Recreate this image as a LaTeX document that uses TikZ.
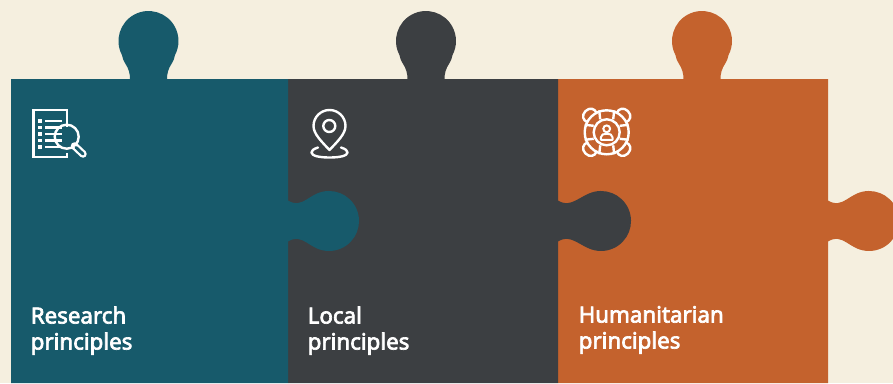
\documentclass[tikz,border=0pt]{standalone}
\usepackage{fontspec}
\setmainfont{Noto Sans}[FakeBold=3]
\definecolor{bgc}{HTML}{F5EFDF}
\definecolor{teal}{HTML}{175A6B}
\definecolor{darkc}{HTML}{3C3F42}
\definecolor{orangec}{HTML}{C4622D}
% #1 left x, #2 right x, #3 top-tab centre x, #4 right-tab circle centre x
\newcommand{\piecepath}[4]{
  (#1,383) -- (#1,79) -- ({#3-18.5},79)
  .. controls ({#3-18.5},74) and ({#3-19.5},69) .. ({#3-23.5},63)
  .. controls ({#3-25},60.5) and ({#3-26},58.5) .. ({#3-26.5},55.1)
  arc[start angle=208,end angle=-28,x radius=30,y radius=-30]
  .. controls ({#3+26},58.5) and ({#3+25},60.5) .. ({#3+23.5},63)
  .. controls ({#3+19.5},69) and ({#3+18.5},74) .. ({#3+18.5},79)
  -- (#2,79) -- (#2,200.5)
  .. controls ({#2+3},202.5) and ({#2+7},203.5) .. ({#2+10},203)
  .. controls ({#2+16},202.5) and ({#4-19},196.5) .. ({#4-12},193.5)
  arc[start angle=113.6,end angle=-113.6,x radius=30,y radius=-30]
  .. controls ({#4-19},245.5) and ({#2+16},239.5) .. ({#2+10},239)
  .. controls ({#2+7},238.5) and ({#2+3},239.5) .. (#2,241.5)
  -- (#2,383) -- cycle}
\tikzset{
  label text/.style={text=white,font=\fontsize{22.3pt}{26pt}\selectfont,align=left,anchor=base west,inner sep=0pt},
  iconline/.style={draw=white,line width=2.4pt,line cap=round,line join=round},
  iconbar/.style={draw=white,line width=2.6pt,line cap=butt},
}
\begin{document}
\begin{tikzpicture}[x=1pt,y=-1pt,line width=0.5pt]
\useasboundingbox (0,0) rectangle (893,383);
\clip (0,0) rectangle (893,383);
\fill[bgc] (0,0) rectangle (893,383);
\fill[orangec] \piecepath{558}{828}{702}{869};
\fill[darkc] \piecepath{288}{558}{426}{601};
\fill[teal] \piecepath{11}{288}{148.5}{329};
% research icon
\draw[iconline,line cap=butt,line join=miter] (33.5,110) rectangle (67,157);
\foreach \y in {121,127.5,134,140.5,147}{
  \fill[white] (38,{\y-1.8}) rectangle (42,{\y+1.8});
}
\draw[iconbar] (45,121) -- (62,121);
\foreach \y in {127.5,134,140.5,147}{ \draw[iconbar] (45,\y) -- (62,\y); }
\fill[teal] (64,127) rectangle (68.2,153);
\draw[white,line width=2.4pt] (66.7,136.7) circle[radius=12];
\draw[white,line width=7.5pt,line cap=round] (74.5,146) -- (83,154);
\draw[teal,line width=3pt,line cap=round] (76,147.4) -- (83,154);
% pin icon
\draw[iconline] (329.5,150) .. controls (322,142) and (313.5,134) .. (313.5,126)
  arc[start angle=180,end angle=0,x radius=16,y radius=-16]
  .. controls (345.5,134) and (337,142) .. (329.5,150) -- cycle;
\draw[white,line width=2.4pt] (329.3,126) circle[radius=6];
\draw[iconline] (318,147.5) .. controls (313,149) and (311.5,151) .. (311.5,152.5)
  .. controls (311.5,156) and (320,157.5) .. (329.5,157.5)
  .. controls (339,157.5) and (347.5,156) .. (347.5,152.5)
  .. controls (347.5,151) and (346,149) .. (341,147.5);
% lifebuoy icon
\begin{scope}[shift={(606.7,132.3)}]
  \foreach \a in {45,135,225,315}{
    \begin{scope}[rotate=\a]
      \draw[iconline] (21,-6.5) .. controls (25,-8.5) and (30,-6) .. (30,0)
        .. controls (30,6) and (25,8.5) .. (21,6.5);
    \end{scope}
  }
  \draw[white,line width=2.4pt] (0,0) circle[radius=22];
  \draw[white,line width=2.4pt] (0,0) circle[radius=13];
  \foreach \a in {0,90,180,270}{
    \begin{scope}[rotate=\a]
      \draw[white,line width=2.4pt] (13,-6.5) -- (22,-7.5);
      \draw[white,line width=2.4pt] (13,6.5) -- (22,7.5);
    \end{scope}
  }
  \draw[white,line width=2pt] (0,-3.5) circle[radius=3.4];
  \draw[white,line width=2pt,line join=round] (-5.8,7.5) -- (-5.8,5) .. controls (-5.8,2) and (-3,1.5) .. (0,1.5) .. controls (3,1.5) and (5.8,2) .. (5.8,5) -- (5.8,7.5) -- cycle;
\end{scope}
% labels
\node[label text] (research) at (30.5,349.5) {Research\\principles};
\node[label text] (local) at (307.5,349.5) {Local\\principles};
\node[label text] (human) at (578.5,348.5) {Humanitarian\\principles};
\end{tikzpicture}
\end{document}
